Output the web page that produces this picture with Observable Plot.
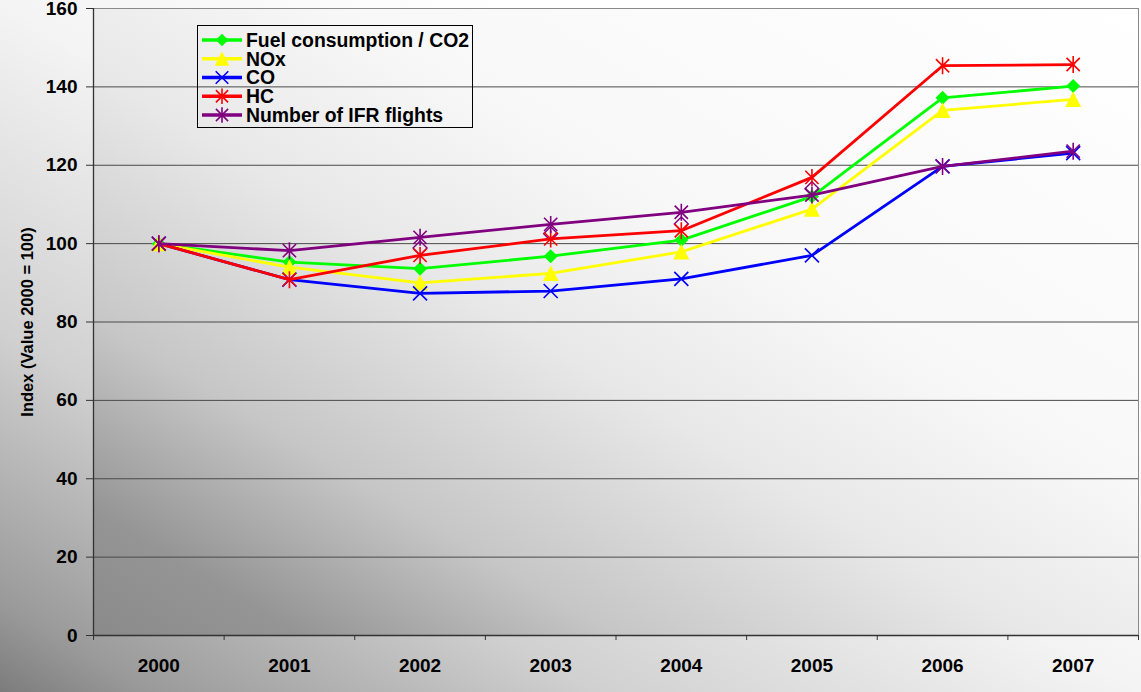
<!DOCTYPE html>
<html><head><meta charset="utf-8">
<script src="https://cdn.jsdelivr.net/npm/d3@7"></script>
<script src="https://cdn.jsdelivr.net/npm/@observablehq/plot@0.6"></script>
<style>
html,body{margin:0;padding:0;background:#fff;}
#wrap{position:relative;width:1141px;height:692px;overflow:hidden;
background:linear-gradient(to top right,#7c7c7c 0%,#9a9a9a 6.6%,#d0d0d0 26%,#f4f4f4 50%,#ffffff 72%);}
</style></head><body>
<svg width="0" height="0" style="position:absolute"><defs>
<linearGradient id="pg" x1="0" y1="1" x2="1" y2="0">
<stop offset="0" stop-color="#8a8a8a"/>
<stop offset="0.1" stop-color="#959595"/>
<stop offset="0.25" stop-color="#c6c6c6"/>
<stop offset="0.45" stop-color="#e8e8e8"/>
<stop offset="0.62" stop-color="#f8f8f8"/>
<stop offset="1" stop-color="#ffffff"/>
</linearGradient></defs></svg>
<div id="wrap"></div>
<script>
// ---- data ----
const years = [2000, 2001, 2002, 2003, 2004, 2005, 2006, 2007];
const seriesNames = ["Fuel consumption / CO2", "NOx", "CO", "HC", "Number of IFR flights"];
const fuel = [100, 95.3, 93.6, 96.8, 100.9, 112.0, 137.2, 140.2];
const nox  = [100, 94.0, 90.0, 92.4, 97.9, 108.8, 134.0, 136.8];
const co   = [100, 90.8, 87.3, 87.9, 91.0, 97.0, 119.7, 123.1];
const hc   = [100, 90.8, 97.0, 101.2, 103.3, 116.9, 145.4, 145.7];
const ifr  = [100, 98.2, 101.6, 104.9, 108.0, 112.4, 119.7, 123.6];
const ifrExtra = [null, null, 98.9, 102.5, 105.0, 114.0, null, null];
const yTicks = [0, 20, 40, 60, 80, 100, 120, 140, 160];
const yTitle = "Index (Value 2000 = 100)";

// ---- symbols ----
const rad = s => Math.sqrt(s / Math.PI);
const symDiamond = {draw(c, s){const r = rad(s); c.moveTo(0,-r); c.lineTo(r,0); c.lineTo(0,r); c.lineTo(-r,0); c.closePath();}};
const symTriangle = {draw(c, s){const r = rad(s); c.moveTo(0,-r); c.lineTo(r,r*0.95); c.lineTo(-r,r*0.95); c.closePath();}};
const symX = {draw(c, s){const r = rad(s); c.moveTo(-r,-r); c.lineTo(r,r); c.moveTo(r,-r); c.lineTo(-r,r);}};
const symStar = {draw(c, s){const r = rad(s); const a = r*0.78; c.moveTo(-a,-a); c.lineTo(a,a); c.moveTo(a,-a); c.lineTo(-a,a); c.moveTo(0,-r); c.lineTo(0,r);}};

const values = [fuel, nox, co, hc, ifr];
const styles = [
  {color:"#00ff00", sym:symDiamond, r:7, filled:true},
  {color:"#ffff00", sym:symTriangle, r:8, filled:true},
  {color:"#0000ff", sym:symX, r:7, filled:false},
  {color:"#ff0000", sym:symStar, r:8.5, filled:false},
  {color:"#800080", sym:symStar, r:8.5, filled:false}
];

const rows = years.map((year, i) => ({year, extra: ifrExtra[i], v: values.map(a => a[i])}));
const bounds = years.map(y => y - 0.5).concat([years[years.length-1] + 0.5]);

const marks = [
  Plot.frame({fill: "url(#pg)", stroke: "none"}),
  Plot.gridY(yTicks.filter(t => t > 0 && t < 160), {stroke: "#4a4a4a", strokeOpacity: 1, strokeWidth: 1}),
  Plot.frame({stroke: "#8a8a8a", strokeWidth: 1}),
  Plot.ruleX([bounds[0]], {stroke: "#333", strokeWidth: 1.3}),
  Plot.ruleY([0], {stroke: "#333", strokeWidth: 1.3}),
  Plot.dot(rows, {x: "year", y: "extra", symbol: symDiamond, r: 7, fill: "none", stroke: "#800080", strokeWidth: 1.4})
];
styles.forEach((st, k) => {
  marks.push(Plot.line(rows, {x: "year", y: d => d.v[k], stroke: st.color, strokeWidth: 2.8, strokeLinejoin: "round"}));
  marks.push(Plot.dot(rows, st.filled
    ? {x: "year", y: d => d.v[k], symbol: st.sym, r: st.r, fill: st.color, stroke: "none"}
    : {x: "year", y: d => d.v[k], symbol: st.sym, r: st.r, fill: "none", stroke: st.color, strokeWidth: 1.6}));
});
marks.push(
  Plot.axisY(yTicks, {tickSize: 7, tickPadding: 9, stroke: "#333", fontSize: 19, fontWeight: "bold"}),
  Plot.axisX(bounds, {tickSize: 5, tickFormat: () => "", stroke: "#333"}),
  Plot.axisX(years, {tickSize: 0, tickPadding: 23, tickFormat: d => String(d), fontSize: 19, fontWeight: "bold"}),
  Plot.text([yTitle], {text: d => d, frameAnchor: "left", dx: -66, rotate: -90, textAnchor: "middle", lineAnchor: "middle", fontSize: 16.5, fontWeight: "bold", fill: "black"})
);

const chart = Plot.plot({
  width: 1141, height: 692,
  marginLeft: 93, marginRight: 3, marginTop: 8, marginBottom: 57,
  x: {domain: [bounds[0], bounds[bounds.length-1]], label: null},
  y: {domain: [0, 160], label: null},
  style: {background: "transparent", color: "black", fontFamily: "'Liberation Sans', Arial, sans-serif", fontSize: "19px", fontWeight: "bold", overflow: "visible"},
  marks
});
chart.style.position = "absolute";
chart.style.left = "0px";
chart.style.top = "0px";
const wrap = document.getElementById("wrap");
wrap.appendChild(chart);

// ---- legend overlay ----
const leg = d3.select(wrap).append("svg")
  .attr("width", 1141).attr("height", 692)
  .style("position", "absolute").style("left", "0px").style("top", "0px")
  .style("pointer-events", "none");
leg.append("rect").attr("x", 197.5).attr("y", 25.5).attr("width", 275).attr("height", 102)
  .attr("fill", "none").attr("stroke", "black").attr("stroke-width", 1);
seriesNames.forEach((name, k) => {
  const st = styles[k];
  const cy = 40 + k * 18.75;
  const g = leg.append("g");
  g.append("line").attr("x1", 202).attr("x2", 242).attr("y1", cy).attr("y2", cy)
    .attr("stroke", st.color).attr("stroke-width", 3.5);
  g.append("path").attr("transform", `translate(222,${cy})`)
    .attr("d", d3.symbol(st.sym, Math.PI * (st.r - 0.7) ** 2)())
    .attr("fill", st.filled ? st.color : "none")
    .attr("stroke", st.filled ? "none" : st.color).attr("stroke-width", 1.6);
  g.append("text").attr("x", 246).attr("y", cy).attr("dy", "0.36em")
    .attr("font-family", "'Liberation Sans', Arial, sans-serif").attr("font-weight", "bold")
    .attr("font-size", 19.4).attr("fill", "black").text(name);
});
</script>
</body></html>
